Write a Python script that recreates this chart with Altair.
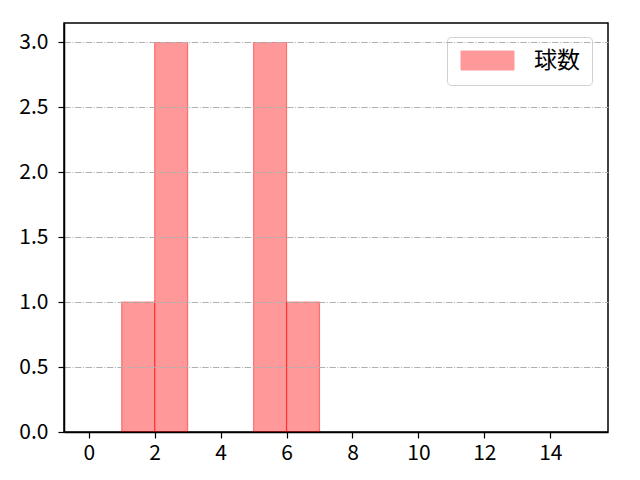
import altair as alt
import pandas as pd

bin_start = [1, 2, 5, 6]
bin_end = [2, 3, 6, 7]
counts = [1, 3, 3, 1]
series = ["球数"] * 4
x_ticks = [0, 2, 4, 6, 8, 10, 12, 14]
y_ticks = [0.0, 0.5, 1.0, 1.5, 2.0, 2.5, 3.0]

df = pd.DataFrame({"x": bin_start, "x2": bin_end, "y": counts, "s": series})

FONT = "Noto Sans CJK JP"

bars = alt.Chart(df).mark_rect(
    fillOpacity=0.4, strokeOpacity=0.45, strokeWidth=1.2, stroke="red"
).encode(
    x=alt.X("x:Q", scale=alt.Scale(domain=[-0.75, 15.75], nice=False, zero=False),
            axis=alt.Axis(values=x_ticks, title=None, grid=False, format="d",
                          zindex=2, labelPadding=4)),
    x2=alt.X2("x2:Q"),
    y=alt.Y("y:Q", scale=alt.Scale(domain=[0, 3.15], nice=False),
            axis=alt.Axis(values=y_ticks, title=None, grid=True, format=".1f",
                          gridColor="#b0b0b0", gridDash=[6.4, 1.6, 1, 1.6],
                          gridWidth=1, zindex=1, labelPadding=10)),
    y2=alt.datum(0),
    color=alt.Color("s:N", scale=alt.Scale(domain=["球数"], range=["red"]),
                    legend=alt.Legend(
                        title=None, orient="none", legendX=383, legendY=14,
                        symbolType="M-1,-1L4.58,-1L4.58,1L-1,1Z",
                        symbolSize=361, symbolOpacity=0.4,
                        symbolStrokeColor="red", symbolStrokeWidth=1,
                        labelFontSize=23, labelFont=FONT, labelColor="black",
                        labelOffset=52, padding=12,
                        strokeColor="#d0d0d0", fillColor="white",
                        cornerRadius=4)),
)

chart = bars.properties(
    width=544, height=409,
    padding={"left": 56, "top": 15, "right": 24, "bottom": 40},
    autosize=alt.AutoSizeParams(type="none"),
    background="white",
).configure_view(
    stroke="black", strokeWidth=1.5
).configure_axis(
    labelFont=FONT, labelFontSize=21, labelColor="black",
    domainColor="black", domainWidth=1.5,
    tickColor="black", tickSize=6, tickWidth=1.2,
)

chart.save("out.html", embed_options={"renderer": "svg", "actions": False})
